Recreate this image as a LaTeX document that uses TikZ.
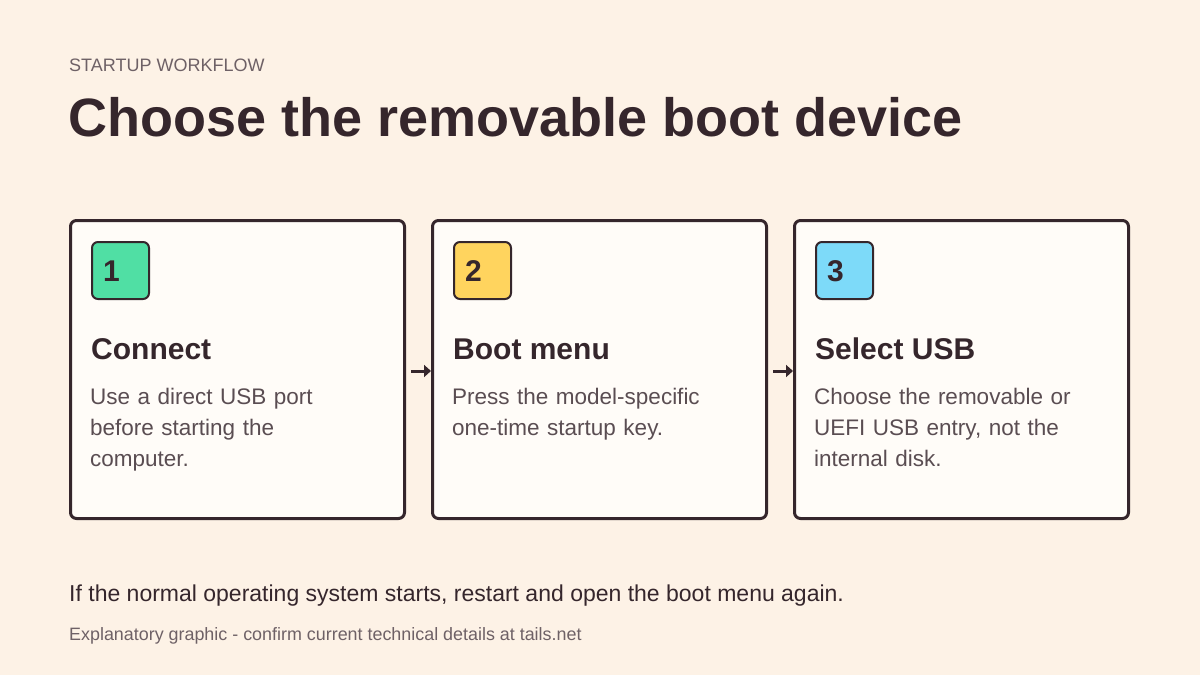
\documentclass[tikz,border=0pt]{standalone}
\usepackage{fontspec}
\setmainfont{Liberation Sans}
\usetikzlibrary{arrows.meta}
\definecolor{bg}{HTML}{FDF2E6}
\definecolor{cardfill}{HTML}{FFFCF8}
\definecolor{ink}{HTML}{35262C}
\definecolor{body}{HTML}{5A4D52}
\definecolor{muted}{HTML}{6E6166}
\definecolor{cgreen}{HTML}{50DFA4}
\definecolor{cyellow}{HTML}{FFD45E}
\definecolor{ccyan}{HTML}{7DDAF9}
\tikzset{
  card/.style={draw=ink, line width=3pt, fill=cardfill, rounded corners=6pt},
  badge/.style={draw=ink, line width=2pt, rounded corners=6pt},
  num/.style={anchor=base west, inner sep=0pt, text=ink, font=\fontsize{30}{34}\selectfont\bfseries},
  ctitle/.style={anchor=base west, inner sep=0pt, text=ink, font=\fontsize{30}{36}\selectfont\bfseries},
  cbody/.style={anchor=base west, inner sep=0pt, text=body, text width=310pt, align=left, font=\fontsize{22.5}{31}\selectfont},
  link/.style={draw=ink, line width=3pt, shorten <=5pt, -{Triangle[length=7pt,width=12pt]}},
}
\begin{document}
\begin{tikzpicture}[x=1pt,y=-1pt]
\fill[bg] (0,0) rectangle (1200,675);
\useasboundingbox (0,0) rectangle (1200,675);
\node[anchor=base west, inner sep=0pt, text=muted, font=\fontsize{18}{22}\selectfont] (kicker) at (69,71) {STARTUP WORKFLOW};
\node[anchor=base west, inner sep=0pt, text=ink, font=\fontsize{54}{60}\selectfont\bfseries] (head) at (68,136) {Choose the removable boot device};
% cards
\foreach \i/\x/\c/\t/\la/\lb/\lc in {
  1/69/cgreen/Connect/{Use a direct USB port}/{before starting the}/{computer.},
  2/431/cyellow/Boot menu/{Press the model-specific}/{one-time startup key.}/{},
  3/793/ccyan/Select USB/{Choose the removable or}/{UEFI USB entry, not the}/{internal disk.}}{
  \node[card, anchor=north west, minimum width=334pt, minimum height=298pt, inner sep=0pt] (card\i) at (\x,219) {};
  \node[badge, fill=\c, anchor=north west, minimum width=57pt, minimum height=57pt, inner sep=0pt] (badge\i) at (\x+22,241) {};
  \node[num] (num\i) at (\x+34,281) {\i};
  \node[ctitle] (title\i) at (\x+22,359) {\t};
  \node[cbody] (text\i) at (\x+21,404) {\la\\\lb\\\lc};
}
\draw[link] ([yshift=-1.5pt]card1.east) -- ([yshift=-1.5pt]card2.west);
\draw[link] ([yshift=-1.5pt]card2.east) -- ([yshift=-1.5pt]card3.west);
\node[anchor=base west, inner sep=0pt, text=ink, font=\fontsize{23}{27}\selectfont] (note) at (69,601) {If the normal operating system starts, restart and open the boot menu again.};
\node[anchor=base west, inner sep=0pt, text=muted, font=\fontsize{17.9}{21}\selectfont] (foot) at (69,640) {Explanatory graphic - confirm current technical details at tails.net};
\end{tikzpicture}
\end{document}
